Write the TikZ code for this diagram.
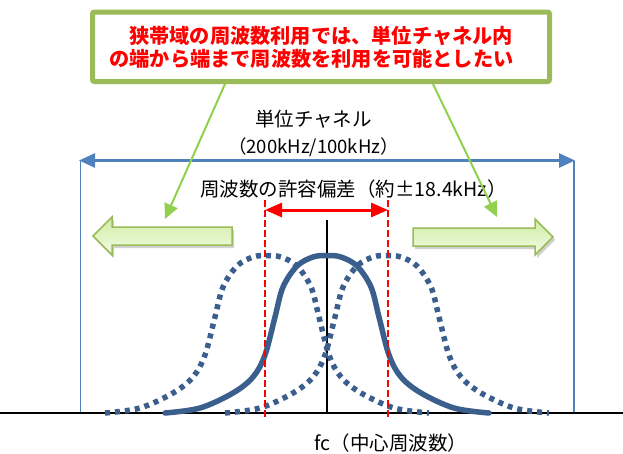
\documentclass[tikz,border=0pt]{standalone}
\usepackage{fontspec}
\setmainfont{Noto Sans CJK JP}
\usetikzlibrary{arrows.meta}
\definecolor{boxgreen}{RGB}{155,187,89}
\definecolor{linegreen}{RGB}{146,208,80}
\definecolor{chblue}{RGB}{79,129,189}
\definecolor{curveblue}{RGB}{59,95,141}
\definecolor{arrowtop}{RGB}{208,237,164}
\definecolor{arrowbot}{RGB}{242,252,228}
\tikzset{
  titlebox/.style={draw=boxgreen, line width=5pt, rounded corners=2pt, fill=white},
  titletext/.style={text=red, font=\fontsize{20.2}{22}\selectfont\bfseries, inner sep=0pt},
  label/.style={text=black, font=\fontsize{19.5}{21}\selectfont, inner sep=0pt},
  greenarrow/.style={draw=linegreen, line width=2pt, -{Triangle[length=15pt,width=14pt]}},
  bluearrow/.style={draw=chblue, line width=2.5pt, {Triangle[length=16pt,width=14pt]}-{Triangle[length=16pt,width=14pt]}},
  blueedge/.style={draw=chblue, line width=1.5pt},
  redarrow/.style={draw=red, line width=3pt, {Triangle[length=17pt,width=14pt]}-{Triangle[length=17pt,width=14pt]}},
  reddash/.style={draw=red, line width=1.5pt, dash pattern=on 7pt off 3pt},
  axis/.style={draw=black, line width=1.4pt},
  blockarrow/.style={draw=boxgreen, line width=1.5pt, top color=arrowtop, bottom color=arrowbot},
  blockshadow/.style={fill=black, opacity=0.18},
  solidcurve/.style={draw=curveblue, line width=5.5pt, line cap=round},
  dotcurve/.style={draw=curveblue, line width=5.5pt, dash pattern=on 5pt off 5pt},
}
\begin{document}
\begin{tikzpicture}[x=1pt,y=-1pt]
\useasboundingbox (0,0) rectangle (623,453);
\fill[white] (0,0) rectangle (623,453);

% title box
\draw[titlebox] (92.5,12) rectangle (549.5,81.5);
\node[titletext] (t1) at (321,36) {狭帯域の周波数利用では、単位チャネル内};
\node[titletext] (t2) at (311.5,58.5) {の端から端まで周波数を利用を可能としたい};
\coordinate (gl0) at (225,84);
\coordinate (gr0) at (433,84);

% channel labels
\node[label] (ch) at (313.5,119) {単位チャネル};
\node[label, font=\fontsize{18.5}{20}\selectfont] (chw) at (313.5,147) {（200kHz/100kHz）};

% blue channel arrow and edges
\coordinate (bl) at (79,160.5);
\coordinate (br) at (575,160.5);
\coordinate (blb) at (80.5,413);
\coordinate (brb) at (574,413);
\coordinate (blt) at (80.5,160.5);
\coordinate (brt) at (574,160.5);
\draw[blueedge] (blt) -- (blb);
\draw[blueedge] (brt) -- (brb);
\draw[bluearrow] (bl) -- (br);

% tolerance label
\node[label] (tol) at (353.5,189) {周波数の許容偏差（約±18.4kHz）};

% block arrows
\fill[blockshadow, shift={(2,3)}] (93,236) -- (112,217) -- (112,227) -- (232,227) -- (232,245) -- (112,245) -- (112,255) -- cycle;
\draw[blockarrow] (93,236) -- (112,217) -- (112,227) -- (232,227) -- (232,245) -- (112,245) -- (112,255) -- cycle;
\fill[blockshadow, shift={(2,3)}] (553,237) -- (535,219) -- (535,228) -- (413,228) -- (413,246) -- (535,246) -- (535,255) -- cycle;
\draw[blockarrow] (553,237) -- (535,219) -- (535,228) -- (413,228) -- (413,246) -- (535,246) -- (535,255) -- cycle;

% green pointers
\coordinate (gl1) at (165,219);
\coordinate (gr1) at (497,217);
\draw[greenarrow] (gl0) -- (gl1);
\draw[greenarrow] (gr0) -- (gr1);

% axes
\coordinate (ax0) at (0,413);
\coordinate (ax1) at (623,413);
\coordinate (ct) at (327,220);
\coordinate (cb) at (327,413);
\draw[axis] (ax0) -- (ax1);
\draw[axis, line width=1.2pt] (ct) -- (cb);

% curves
\foreach \cx/\sty in {267/dotcurve,387/dotcurve,327/solidcurve}
  \draw[\sty, shift={(\cx,0)}] plot[smooth,tension=0.55] coordinates {(-162,413) (-127,408) (-94,393) (-74,377) (-62,355) (-52,317) (-44,287) (-30,266) (-14,257) (0,255.5) (14,257) (30,266) (44,287) (52,317) (62,355) (74,377) (94,393) (127,408) (162,413)};

% tolerance markers and red arrow
\coordinate (rl) at (265,200);
\coordinate (rr) at (388,200);
\coordinate (rlb) at (265,418);
\coordinate (rrb) at (388,418);
\draw[reddash] (rl) -- (rlb);
\draw[reddash] (rr) -- (rrb);
\coordinate (ral) at (265,210);
\coordinate (rar) at (388,210);
\draw[redarrow] (ral) -- (rar);

% center frequency label
\node[label] (fc) at (391,443) {fc（中心周波数）};
\end{tikzpicture}
\end{document}
